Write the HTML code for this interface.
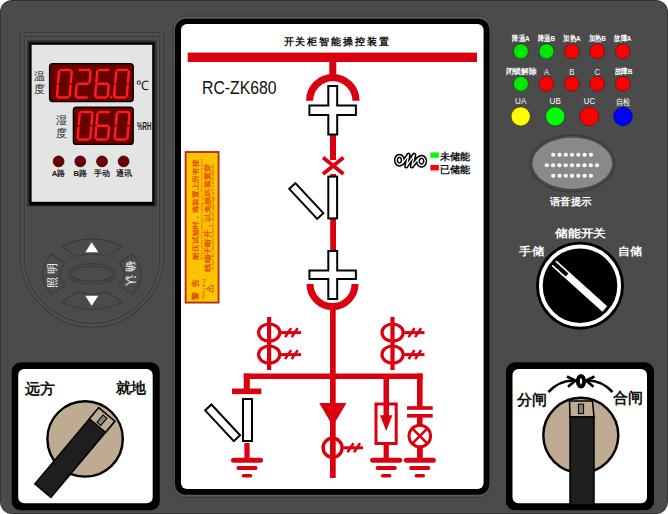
<!DOCTYPE html>
<html><head><meta charset="utf-8">
<style>
html,body{margin:0;padding:0;background:#fff;}
#w{position:relative;width:668px;height:514px;overflow:hidden;}
svg{position:absolute;left:0;top:0;}
text{font-family:"Liberation Sans",sans-serif;}
</style></head><body><div id="w">
<svg width="668" height="514" viewBox="0 0 668 514">

<rect x="0" y="0" width="668" height="514" fill="#ffffff"/>
<rect x="0" y="0" width="668" height="514" rx="12" ry="12" fill="#343434"/>
<rect x="1" y="1" width="666" height="512" rx="11" ry="11" fill="#4b4b4b"/>
<path d="M20.5,32.5 H163.5 V255 A71.5,72 0 0 1 20.5,255 Z" fill="none" stroke="#3a3a3a" stroke-width="1.2"/>
<path d="M21.5,33.5 H162.5 V255 A70.5,71 0 0 1 21.5,255 Z" fill="none" stroke="#555" stroke-width="0.8"/>
<path d="M24.5,36.5 H159.5 V255 A67.5,68 0 0 1 24.5,255 Z" fill="none" stroke="#3a3a3a" stroke-width="1.2"/>
<path d="M25.5,37.5 H158.5 V255 A66.5,67 0 0 1 25.5,255 Z" fill="none" stroke="#555" stroke-width="0.8"/>
<rect x="27.4" y="40.5" width="129.1" height="166" fill="#2a2a2a"/>
<rect x="29.4" y="42.6" width="124.8" height="162.6" fill="#000"/>
<rect x="31.6" y="44.8" width="120.6" height="157" fill="#e4e4e4"/>
<rect x="49.6" y="63.6" width="83.6" height="38" rx="3" fill="#680000" stroke="#000" stroke-width="1.4"/>
<rect x="73.4" y="107.2" width="59.8" height="37.2" rx="3" fill="#680000" stroke="#000" stroke-width="1.4"/>
<line x1="60.74" y1="70.00" x2="70.24" y2="70.00" stroke="#ff1c1c" stroke-width="2.5" stroke-linecap="round"/>
<line x1="71.70" y1="71.60" x2="70.80" y2="82.15" stroke="#ff1c1c" stroke-width="2.5" stroke-linecap="round"/>
<line x1="70.53" y1="85.35" x2="69.64" y2="95.90" stroke="#ff1c1c" stroke-width="2.5" stroke-linecap="round"/>
<line x1="58.40" y1="97.50" x2="67.90" y2="97.50" stroke="#ff1c1c" stroke-width="2.5" stroke-linecap="round"/>
<line x1="57.83" y1="85.35" x2="56.94" y2="95.90" stroke="#ff1c1c" stroke-width="2.5" stroke-linecap="round"/>
<line x1="59.00" y1="71.60" x2="58.10" y2="82.15" stroke="#ff1c1c" stroke-width="2.5" stroke-linecap="round"/>
<line x1="79.54" y1="70.00" x2="89.04" y2="70.00" stroke="#ff1c1c" stroke-width="2.5" stroke-linecap="round"/>
<line x1="90.50" y1="71.60" x2="89.60" y2="82.15" stroke="#ff1c1c" stroke-width="2.5" stroke-linecap="round"/>
<line x1="78.37" y1="83.75" x2="87.87" y2="83.75" stroke="#ff1c1c" stroke-width="2.5" stroke-linecap="round"/>
<line x1="76.63" y1="85.35" x2="75.74" y2="95.90" stroke="#ff1c1c" stroke-width="2.5" stroke-linecap="round"/>
<line x1="77.20" y1="97.50" x2="86.70" y2="97.50" stroke="#ff1c1c" stroke-width="2.5" stroke-linecap="round"/>
<line x1="98.94" y1="70.00" x2="108.44" y2="70.00" stroke="#ff1c1c" stroke-width="2.5" stroke-linecap="round"/>
<line x1="97.20" y1="71.60" x2="96.30" y2="82.15" stroke="#ff1c1c" stroke-width="2.5" stroke-linecap="round"/>
<line x1="97.77" y1="83.75" x2="107.27" y2="83.75" stroke="#ff1c1c" stroke-width="2.5" stroke-linecap="round"/>
<line x1="96.03" y1="85.35" x2="95.14" y2="95.90" stroke="#ff1c1c" stroke-width="2.5" stroke-linecap="round"/>
<line x1="96.60" y1="97.50" x2="106.10" y2="97.50" stroke="#ff1c1c" stroke-width="2.5" stroke-linecap="round"/>
<line x1="108.73" y1="85.35" x2="107.84" y2="95.90" stroke="#ff1c1c" stroke-width="2.5" stroke-linecap="round"/>
<line x1="117.94" y1="70.00" x2="127.44" y2="70.00" stroke="#ff1c1c" stroke-width="2.5" stroke-linecap="round"/>
<line x1="128.90" y1="71.60" x2="128.00" y2="82.15" stroke="#ff1c1c" stroke-width="2.5" stroke-linecap="round"/>
<line x1="127.73" y1="85.35" x2="126.84" y2="95.90" stroke="#ff1c1c" stroke-width="2.5" stroke-linecap="round"/>
<line x1="115.60" y1="97.50" x2="125.10" y2="97.50" stroke="#ff1c1c" stroke-width="2.5" stroke-linecap="round"/>
<line x1="115.03" y1="85.35" x2="114.14" y2="95.90" stroke="#ff1c1c" stroke-width="2.5" stroke-linecap="round"/>
<line x1="116.20" y1="71.60" x2="115.30" y2="82.15" stroke="#ff1c1c" stroke-width="2.5" stroke-linecap="round"/>
<circle cx="111.3" cy="97.3" r="1.2" fill="#ff2222"/>
<line x1="81.44" y1="111.90" x2="90.94" y2="111.90" stroke="#ff1c1c" stroke-width="2.5" stroke-linecap="round"/>
<line x1="92.40" y1="113.50" x2="91.50" y2="124.05" stroke="#ff1c1c" stroke-width="2.5" stroke-linecap="round"/>
<line x1="91.23" y1="127.25" x2="90.34" y2="137.80" stroke="#ff1c1c" stroke-width="2.5" stroke-linecap="round"/>
<line x1="79.10" y1="139.40" x2="88.60" y2="139.40" stroke="#ff1c1c" stroke-width="2.5" stroke-linecap="round"/>
<line x1="78.53" y1="127.25" x2="77.64" y2="137.80" stroke="#ff1c1c" stroke-width="2.5" stroke-linecap="round"/>
<line x1="79.70" y1="113.50" x2="78.80" y2="124.05" stroke="#ff1c1c" stroke-width="2.5" stroke-linecap="round"/>
<line x1="99.24" y1="111.90" x2="108.74" y2="111.90" stroke="#ff1c1c" stroke-width="2.5" stroke-linecap="round"/>
<line x1="97.50" y1="113.50" x2="96.60" y2="124.05" stroke="#ff1c1c" stroke-width="2.5" stroke-linecap="round"/>
<line x1="98.07" y1="125.65" x2="107.57" y2="125.65" stroke="#ff1c1c" stroke-width="2.5" stroke-linecap="round"/>
<line x1="96.33" y1="127.25" x2="95.44" y2="137.80" stroke="#ff1c1c" stroke-width="2.5" stroke-linecap="round"/>
<line x1="96.90" y1="139.40" x2="106.40" y2="139.40" stroke="#ff1c1c" stroke-width="2.5" stroke-linecap="round"/>
<line x1="109.03" y1="127.25" x2="108.14" y2="137.80" stroke="#ff1c1c" stroke-width="2.5" stroke-linecap="round"/>
<line x1="118.54" y1="111.90" x2="128.04" y2="111.90" stroke="#ff1c1c" stroke-width="2.5" stroke-linecap="round"/>
<line x1="129.50" y1="113.50" x2="128.60" y2="124.05" stroke="#ff1c1c" stroke-width="2.5" stroke-linecap="round"/>
<line x1="128.33" y1="127.25" x2="127.44" y2="137.80" stroke="#ff1c1c" stroke-width="2.5" stroke-linecap="round"/>
<line x1="116.20" y1="139.40" x2="125.70" y2="139.40" stroke="#ff1c1c" stroke-width="2.5" stroke-linecap="round"/>
<line x1="115.63" y1="127.25" x2="114.74" y2="137.80" stroke="#ff1c1c" stroke-width="2.5" stroke-linecap="round"/>
<line x1="116.80" y1="113.50" x2="115.90" y2="124.05" stroke="#ff1c1c" stroke-width="2.5" stroke-linecap="round"/>
<text x="39.6" y="80" font-size="11" text-anchor="middle" fill="#222">温</text>
<text x="39.6" y="93" font-size="11" text-anchor="middle" fill="#222">度</text>
<text x="61" y="124" font-size="11" text-anchor="middle" fill="#222">湿</text>
<text x="61" y="137" font-size="11" text-anchor="middle" fill="#222">度</text>
<text x="136" y="90" font-size="13" fill="#222">℃</text>
<text x="137" y="130.3" font-size="10.6" font-weight="bold" fill="#1a1a1a" textLength="14.6" lengthAdjust="spacingAndGlyphs">%RH</text>
<circle cx="58.6" cy="161.4" r="5.4" fill="#6a0000" stroke="#2a0000" stroke-width="0.8"/>
<text x="58.6" y="176.2" font-size="7.8" font-weight="bold" text-anchor="middle" fill="#1a1a1a">A路</text>
<circle cx="80.3" cy="161.4" r="5.4" fill="#6a0000" stroke="#2a0000" stroke-width="0.8"/>
<text x="80.3" y="176.2" font-size="7.8" font-weight="bold" text-anchor="middle" fill="#1a1a1a">B路</text>
<circle cx="102.0" cy="161.4" r="5.4" fill="#6a0000" stroke="#2a0000" stroke-width="0.8"/>
<text x="102.0" y="176.2" font-size="7.8" font-weight="bold" text-anchor="middle" fill="#1a1a1a">手动</text>
<circle cx="123.6" cy="161.4" r="5.4" fill="#6a0000" stroke="#2a0000" stroke-width="0.8"/>
<text x="123.6" y="176.2" font-size="7.8" font-weight="bold" text-anchor="middle" fill="#1a1a1a">通讯</text>
<path d="M62.22,246.34 L62.56,246.16 L62.91,245.97 L63.25,245.79 L63.60,245.62 L63.96,245.44 L64.31,245.27 L64.67,245.10 L65.02,244.93 L65.38,244.76 L65.75,244.60 L66.11,244.44 L66.48,244.28 L66.84,244.12 L67.21,243.97 L67.59,243.81 L67.96,243.66 L68.34,243.51 L68.71,243.37 L69.09,243.23 L69.47,243.08 L69.86,242.95 L70.24,242.81 L70.63,242.68 L71.01,242.54 L71.40,242.41 L71.79,242.29 L72.18,242.16 L72.58,242.04 L72.97,241.92 L73.37,241.81 L73.77,241.69 L74.17,241.58 L74.57,241.47 L74.97,241.36 L75.37,241.26 L75.78,241.16 L76.19,241.06 L76.59,240.96 L77.00,240.87 L77.41,240.77 L77.82,240.69 L78.23,240.60 L78.65,240.51 L79.06,240.43 L79.47,240.35 L79.89,240.28 L80.31,240.20 L80.72,240.13 L81.14,240.06 L81.56,240.00 L81.98,239.93 L82.40,239.87 L82.82,239.81 L83.25,239.76 L83.67,239.71 L84.09,239.66 L84.52,239.61 L84.94,239.56 L85.37,239.52 L85.79,239.48 L86.22,239.44 L86.64,239.41 L87.07,239.38 L87.50,239.35 L87.93,239.32 L88.35,239.30 L88.78,239.27 L89.21,239.26 L89.64,239.24 L90.07,239.23 L90.50,239.22 L90.93,239.21 L91.36,239.20 L91.79,239.20 L92.21,239.20 L92.64,239.20 L93.07,239.21 L93.50,239.22 L93.93,239.23 L94.36,239.24 L94.79,239.26 L95.22,239.27 L95.65,239.30 L96.07,239.32 L96.50,239.35 L96.93,239.38 L97.36,239.41 L97.78,239.44 L98.21,239.48 L98.63,239.52 L99.06,239.56 L99.48,239.61 L99.91,239.66 L100.33,239.71 L100.75,239.76 L101.18,239.81 L101.60,239.87 L102.02,239.93 L102.44,240.00 L102.86,240.06 L103.28,240.13 L103.69,240.20 L104.11,240.28 L104.53,240.35 L104.94,240.43 L105.35,240.51 L105.77,240.60 L106.18,240.69 L106.59,240.77 L107.00,240.87 L107.41,240.96 L107.81,241.06 L108.22,241.16 L108.63,241.26 L109.03,241.36 L109.43,241.47 L109.83,241.58 L110.23,241.69 L110.63,241.81 L111.03,241.92 L111.42,242.04 L111.82,242.16 L112.21,242.29 L112.60,242.41 L112.99,242.54 L113.37,242.68 L113.76,242.81 L114.14,242.95 L114.53,243.08 L114.91,243.23 L115.29,243.37 L115.66,243.51 L116.04,243.66 L116.41,243.81 L116.79,243.97 L117.16,244.12 L117.52,244.28 L117.89,244.44 L118.25,244.60 L118.62,244.76 L118.98,244.93 L119.33,245.10 L119.69,245.27 L120.04,245.44 L120.40,245.62 L120.75,245.79 L121.09,245.97 L121.44,246.16 L121.78,246.34 L106.90,256.50 L106.65,256.42 L106.40,256.34 L106.15,256.26 L105.90,256.19 L105.65,256.11 L105.40,256.04 L105.14,255.96 L104.89,255.89 L104.63,255.82 L104.37,255.76 L104.12,255.69 L103.86,255.62 L103.60,255.56 L103.34,255.50 L103.08,255.44 L102.81,255.38 L102.55,255.32 L102.29,255.26 L102.02,255.21 L101.76,255.15 L101.49,255.10 L101.22,255.05 L100.95,255.00 L100.69,254.95 L100.42,254.90 L100.15,254.86 L99.88,254.82 L99.61,254.77 L99.33,254.73 L99.06,254.69 L98.79,254.66 L98.52,254.62 L98.24,254.58 L97.97,254.55 L97.69,254.52 L97.42,254.49 L97.14,254.46 L96.87,254.43 L96.59,254.41 L96.32,254.38 L96.04,254.36 L95.76,254.34 L95.48,254.32 L95.21,254.30 L94.93,254.28 L94.65,254.27 L94.37,254.25 L94.09,254.24 L93.81,254.23 L93.54,254.22 L93.26,254.22 L92.98,254.21 L92.70,254.20 L92.42,254.20 L92.14,254.20 L91.86,254.20 L91.58,254.20 L91.30,254.20 L91.02,254.21 L90.74,254.22 L90.46,254.22 L90.19,254.23 L89.91,254.24 L89.63,254.25 L89.35,254.27 L89.07,254.28 L88.79,254.30 L88.52,254.32 L88.24,254.34 L87.96,254.36 L87.68,254.38 L87.41,254.41 L87.13,254.43 L86.86,254.46 L86.58,254.49 L86.31,254.52 L86.03,254.55 L85.76,254.58 L85.48,254.62 L85.21,254.66 L84.94,254.69 L84.67,254.73 L84.39,254.77 L84.12,254.82 L83.85,254.86 L83.58,254.90 L83.31,254.95 L83.05,255.00 L82.78,255.05 L82.51,255.10 L82.24,255.15 L81.98,255.21 L81.71,255.26 L81.45,255.32 L81.19,255.38 L80.92,255.44 L80.66,255.50 L80.40,255.56 L80.14,255.62 L79.88,255.69 L79.63,255.76 L79.37,255.82 L79.11,255.89 L78.86,255.96 L78.60,256.04 L78.35,256.11 L78.10,256.19 L77.85,256.26 L77.60,256.34 L77.35,256.42 L77.10,256.50 L76.98,256.54 Z" fill="#4b4b4b" stroke="#393939" stroke-width="1.1" stroke-linejoin="miter"/>
<path d="M132.18,254.00 L132.43,254.25 L132.67,254.50 L132.91,254.76 L133.15,255.01 L133.38,255.27 L133.61,255.52 L133.84,255.78 L134.06,256.04 L134.28,256.30 L134.50,256.57 L134.72,256.83 L134.93,257.10 L135.13,257.37 L135.34,257.63 L135.54,257.90 L135.74,258.17 L135.93,258.45 L136.13,258.72 L136.31,258.99 L136.50,259.27 L136.68,259.55 L136.86,259.82 L137.03,260.10 L137.20,260.38 L137.37,260.67 L137.54,260.95 L137.70,261.23 L137.85,261.51 L138.01,261.80 L138.16,262.09 L138.31,262.37 L138.45,262.66 L138.59,262.95 L138.73,263.24 L138.86,263.53 L138.99,263.82 L139.11,264.11 L139.23,264.41 L139.35,264.70 L139.47,264.99 L139.58,265.29 L139.69,265.58 L139.79,265.88 L139.89,266.18 L139.99,266.48 L140.08,266.77 L140.17,267.07 L140.25,267.37 L140.34,267.67 L140.41,267.97 L140.49,268.27 L140.56,268.57 L140.63,268.88 L140.69,269.18 L140.75,269.48 L140.81,269.78 L140.86,270.09 L140.91,270.39 L140.95,270.69 L140.99,271.00 L141.03,271.30 L141.06,271.61 L141.09,271.91 L141.12,272.22 L141.14,272.52 L141.16,272.83 L141.18,273.13 L141.19,273.44 L141.20,273.74 L141.20,274.05 L141.20,274.35 L141.20,274.66 L141.19,274.96 L141.18,275.27 L141.16,275.57 L141.14,275.88 L141.12,276.18 L141.09,276.49 L141.06,276.79 L141.03,277.10 L140.99,277.40 L140.95,277.71 L140.91,278.01 L140.86,278.31 L140.81,278.62 L140.75,278.92 L140.69,279.22 L140.63,279.52 L140.56,279.83 L140.49,280.13 L140.41,280.43 L140.34,280.73 L140.25,281.03 L140.17,281.33 L140.08,281.63 L139.99,281.92 L139.89,282.22 L139.79,282.52 L139.69,282.82 L139.58,283.11 L139.47,283.41 L139.35,283.70 L139.23,283.99 L139.11,284.29 L138.99,284.58 L138.86,284.87 L138.73,285.16 L138.59,285.45 L138.45,285.74 L138.31,286.03 L138.16,286.31 L138.01,286.60 L137.85,286.89 L137.70,287.17 L137.54,287.45 L137.37,287.73 L137.20,288.02 L137.03,288.30 L136.86,288.58 L136.68,288.85 L136.50,289.13 L136.31,289.41 L136.13,289.68 L135.93,289.95 L135.74,290.23 L135.54,290.50 L135.34,290.77 L135.13,291.03 L134.93,291.30 L134.72,291.57 L134.50,291.83 L134.28,292.10 L134.06,292.36 L133.84,292.62 L133.61,292.88 L133.38,293.13 L133.15,293.39 L132.91,293.64 L132.67,293.90 L132.43,294.15 L132.18,294.40 L118.84,285.09 L118.99,284.95 L119.14,284.80 L119.28,284.65 L119.43,284.50 L119.57,284.35 L119.71,284.20 L119.85,284.05 L119.99,283.90 L120.12,283.74 L120.25,283.59 L120.38,283.43 L120.51,283.28 L120.64,283.12 L120.76,282.97 L120.88,282.81 L121.00,282.65 L121.12,282.49 L121.23,282.33 L121.35,282.17 L121.46,282.01 L121.56,281.85 L121.67,281.69 L121.77,281.53 L121.87,281.37 L121.97,281.20 L122.07,281.04 L122.16,280.88 L122.26,280.71 L122.35,280.55 L122.43,280.38 L122.52,280.21 L122.60,280.05 L122.68,279.88 L122.76,279.71 L122.84,279.54 L122.91,279.38 L122.98,279.21 L123.05,279.04 L123.12,278.87 L123.18,278.70 L123.24,278.53 L123.30,278.36 L123.36,278.19 L123.41,278.02 L123.46,277.84 L123.51,277.67 L123.56,277.50 L123.61,277.33 L123.65,277.16 L123.69,276.98 L123.73,276.81 L123.76,276.64 L123.79,276.46 L123.82,276.29 L123.85,276.12 L123.88,275.94 L123.90,275.77 L123.92,275.60 L123.94,275.42 L123.96,275.25 L123.97,275.07 L123.98,274.90 L123.99,274.72 L124.00,274.55 L124.00,274.37 L124.00,274.20 L124.00,274.03 L124.00,273.85 L123.99,273.68 L123.98,273.50 L123.97,273.33 L123.96,273.15 L123.94,272.98 L123.92,272.80 L123.90,272.63 L123.88,272.46 L123.85,272.28 L123.82,272.11 L123.79,271.94 L123.76,271.76 L123.73,271.59 L123.69,271.42 L123.65,271.24 L123.61,271.07 L123.56,270.90 L123.51,270.73 L123.46,270.56 L123.41,270.38 L123.36,270.21 L123.30,270.04 L123.24,269.87 L123.18,269.70 L123.12,269.53 L123.05,269.36 L122.98,269.19 L122.91,269.02 L122.84,268.86 L122.76,268.69 L122.68,268.52 L122.60,268.35 L122.52,268.19 L122.43,268.02 L122.35,267.85 L122.26,267.69 L122.16,267.52 L122.07,267.36 L121.97,267.20 L121.87,267.03 L121.77,266.87 L121.67,266.71 L121.56,266.55 L121.46,266.39 L121.35,266.23 L121.23,266.07 L121.12,265.91 L121.00,265.75 L120.88,265.59 L120.76,265.43 L120.64,265.28 L120.51,265.12 L120.38,264.97 L120.25,264.81 L120.12,264.66 L119.99,264.50 L119.85,264.35 L119.71,264.20 L119.57,264.05 L119.43,263.90 L119.28,263.75 L119.14,263.60 L118.99,263.45 L118.84,263.31 L118.76,263.23 Z" fill="#4b4b4b" stroke="#393939" stroke-width="1.1" stroke-linejoin="miter"/>
<path d="M121.78,302.06 L121.44,302.24 L121.09,302.43 L120.75,302.61 L120.40,302.78 L120.04,302.96 L119.69,303.13 L119.33,303.30 L118.98,303.47 L118.62,303.64 L118.25,303.80 L117.89,303.96 L117.52,304.12 L117.16,304.28 L116.79,304.43 L116.41,304.59 L116.04,304.74 L115.66,304.89 L115.29,305.03 L114.91,305.17 L114.53,305.32 L114.14,305.45 L113.76,305.59 L113.37,305.72 L112.99,305.86 L112.60,305.99 L112.21,306.11 L111.82,306.24 L111.42,306.36 L111.03,306.48 L110.63,306.59 L110.23,306.71 L109.83,306.82 L109.43,306.93 L109.03,307.04 L108.63,307.14 L108.22,307.24 L107.81,307.34 L107.41,307.44 L107.00,307.53 L106.59,307.63 L106.18,307.71 L105.77,307.80 L105.35,307.89 L104.94,307.97 L104.53,308.05 L104.11,308.12 L103.69,308.20 L103.28,308.27 L102.86,308.34 L102.44,308.40 L102.02,308.47 L101.60,308.53 L101.18,308.59 L100.75,308.64 L100.33,308.69 L99.91,308.74 L99.48,308.79 L99.06,308.84 L98.63,308.88 L98.21,308.92 L97.78,308.96 L97.36,308.99 L96.93,309.02 L96.50,309.05 L96.07,309.08 L95.65,309.10 L95.22,309.13 L94.79,309.14 L94.36,309.16 L93.93,309.17 L93.50,309.18 L93.07,309.19 L92.64,309.20 L92.21,309.20 L91.79,309.20 L91.36,309.20 L90.93,309.19 L90.50,309.18 L90.07,309.17 L89.64,309.16 L89.21,309.14 L88.78,309.13 L88.35,309.10 L87.93,309.08 L87.50,309.05 L87.07,309.02 L86.64,308.99 L86.22,308.96 L85.79,308.92 L85.37,308.88 L84.94,308.84 L84.52,308.79 L84.09,308.74 L83.67,308.69 L83.25,308.64 L82.82,308.59 L82.40,308.53 L81.98,308.47 L81.56,308.40 L81.14,308.34 L80.72,308.27 L80.31,308.20 L79.89,308.12 L79.47,308.05 L79.06,307.97 L78.65,307.89 L78.23,307.80 L77.82,307.71 L77.41,307.63 L77.00,307.53 L76.59,307.44 L76.19,307.34 L75.78,307.24 L75.37,307.14 L74.97,307.04 L74.57,306.93 L74.17,306.82 L73.77,306.71 L73.37,306.59 L72.97,306.48 L72.58,306.36 L72.18,306.24 L71.79,306.11 L71.40,305.99 L71.01,305.86 L70.63,305.72 L70.24,305.59 L69.86,305.45 L69.47,305.32 L69.09,305.17 L68.71,305.03 L68.34,304.89 L67.96,304.74 L67.59,304.59 L67.21,304.43 L66.84,304.28 L66.48,304.12 L66.11,303.96 L65.75,303.80 L65.38,303.64 L65.02,303.47 L64.67,303.30 L64.31,303.13 L63.96,302.96 L63.60,302.78 L63.25,302.61 L62.91,302.43 L62.56,302.24 L62.22,302.06 L77.10,291.90 L77.35,291.98 L77.60,292.06 L77.85,292.14 L78.10,292.21 L78.35,292.29 L78.60,292.36 L78.86,292.44 L79.11,292.51 L79.37,292.58 L79.63,292.64 L79.88,292.71 L80.14,292.78 L80.40,292.84 L80.66,292.90 L80.92,292.96 L81.19,293.02 L81.45,293.08 L81.71,293.14 L81.98,293.19 L82.24,293.25 L82.51,293.30 L82.78,293.35 L83.05,293.40 L83.31,293.45 L83.58,293.50 L83.85,293.54 L84.12,293.58 L84.39,293.63 L84.67,293.67 L84.94,293.71 L85.21,293.74 L85.48,293.78 L85.76,293.82 L86.03,293.85 L86.31,293.88 L86.58,293.91 L86.86,293.94 L87.13,293.97 L87.41,293.99 L87.68,294.02 L87.96,294.04 L88.24,294.06 L88.52,294.08 L88.79,294.10 L89.07,294.12 L89.35,294.13 L89.63,294.15 L89.91,294.16 L90.19,294.17 L90.46,294.18 L90.74,294.18 L91.02,294.19 L91.30,294.20 L91.58,294.20 L91.86,294.20 L92.14,294.20 L92.42,294.20 L92.70,294.20 L92.98,294.19 L93.26,294.18 L93.54,294.18 L93.81,294.17 L94.09,294.16 L94.37,294.15 L94.65,294.13 L94.93,294.12 L95.21,294.10 L95.48,294.08 L95.76,294.06 L96.04,294.04 L96.32,294.02 L96.59,293.99 L96.87,293.97 L97.14,293.94 L97.42,293.91 L97.69,293.88 L97.97,293.85 L98.24,293.82 L98.52,293.78 L98.79,293.74 L99.06,293.71 L99.33,293.67 L99.61,293.63 L99.88,293.58 L100.15,293.54 L100.42,293.50 L100.69,293.45 L100.95,293.40 L101.22,293.35 L101.49,293.30 L101.76,293.25 L102.02,293.19 L102.29,293.14 L102.55,293.08 L102.81,293.02 L103.08,292.96 L103.34,292.90 L103.60,292.84 L103.86,292.78 L104.12,292.71 L104.37,292.64 L104.63,292.58 L104.89,292.51 L105.14,292.44 L105.40,292.36 L105.65,292.29 L105.90,292.21 L106.15,292.14 L106.40,292.06 L106.65,291.98 L106.90,291.90 L107.02,291.86 Z" fill="#4b4b4b" stroke="#393939" stroke-width="1.1" stroke-linejoin="miter"/>
<path d="M51.82,294.40 L51.57,294.15 L51.33,293.90 L51.09,293.64 L50.85,293.39 L50.62,293.13 L50.39,292.88 L50.16,292.62 L49.94,292.36 L49.72,292.10 L49.50,291.83 L49.28,291.57 L49.07,291.30 L48.87,291.03 L48.66,290.77 L48.46,290.50 L48.26,290.23 L48.07,289.95 L47.87,289.68 L47.69,289.41 L47.50,289.13 L47.32,288.85 L47.14,288.58 L46.97,288.30 L46.80,288.02 L46.63,287.73 L46.46,287.45 L46.30,287.17 L46.15,286.89 L45.99,286.60 L45.84,286.31 L45.69,286.03 L45.55,285.74 L45.41,285.45 L45.27,285.16 L45.14,284.87 L45.01,284.58 L44.89,284.29 L44.77,283.99 L44.65,283.70 L44.53,283.41 L44.42,283.11 L44.31,282.82 L44.21,282.52 L44.11,282.22 L44.01,281.92 L43.92,281.63 L43.83,281.33 L43.75,281.03 L43.66,280.73 L43.59,280.43 L43.51,280.13 L43.44,279.83 L43.37,279.52 L43.31,279.22 L43.25,278.92 L43.19,278.62 L43.14,278.31 L43.09,278.01 L43.05,277.71 L43.01,277.40 L42.97,277.10 L42.94,276.79 L42.91,276.49 L42.88,276.18 L42.86,275.88 L42.84,275.57 L42.82,275.27 L42.81,274.96 L42.80,274.66 L42.80,274.35 L42.80,274.05 L42.80,273.74 L42.81,273.44 L42.82,273.13 L42.84,272.83 L42.86,272.52 L42.88,272.22 L42.91,271.91 L42.94,271.61 L42.97,271.30 L43.01,271.00 L43.05,270.69 L43.09,270.39 L43.14,270.09 L43.19,269.78 L43.25,269.48 L43.31,269.18 L43.37,268.88 L43.44,268.57 L43.51,268.27 L43.59,267.97 L43.66,267.67 L43.75,267.37 L43.83,267.07 L43.92,266.77 L44.01,266.48 L44.11,266.18 L44.21,265.88 L44.31,265.58 L44.42,265.29 L44.53,264.99 L44.65,264.70 L44.77,264.41 L44.89,264.11 L45.01,263.82 L45.14,263.53 L45.27,263.24 L45.41,262.95 L45.55,262.66 L45.69,262.37 L45.84,262.09 L45.99,261.80 L46.15,261.51 L46.30,261.23 L46.46,260.95 L46.63,260.67 L46.80,260.38 L46.97,260.10 L47.14,259.82 L47.32,259.55 L47.50,259.27 L47.69,258.99 L47.87,258.72 L48.07,258.45 L48.26,258.17 L48.46,257.90 L48.66,257.63 L48.87,257.37 L49.07,257.10 L49.28,256.83 L49.50,256.57 L49.72,256.30 L49.94,256.04 L50.16,255.78 L50.39,255.52 L50.62,255.27 L50.85,255.01 L51.09,254.76 L51.33,254.50 L51.57,254.25 L51.82,254.00 L65.16,263.31 L65.01,263.45 L64.86,263.60 L64.72,263.75 L64.57,263.90 L64.43,264.05 L64.29,264.20 L64.15,264.35 L64.01,264.50 L63.88,264.66 L63.75,264.81 L63.62,264.97 L63.49,265.12 L63.36,265.28 L63.24,265.43 L63.12,265.59 L63.00,265.75 L62.88,265.91 L62.77,266.07 L62.65,266.23 L62.54,266.39 L62.44,266.55 L62.33,266.71 L62.23,266.87 L62.13,267.03 L62.03,267.20 L61.93,267.36 L61.84,267.52 L61.74,267.69 L61.65,267.85 L61.57,268.02 L61.48,268.19 L61.40,268.35 L61.32,268.52 L61.24,268.69 L61.16,268.86 L61.09,269.02 L61.02,269.19 L60.95,269.36 L60.88,269.53 L60.82,269.70 L60.76,269.87 L60.70,270.04 L60.64,270.21 L60.59,270.38 L60.54,270.56 L60.49,270.73 L60.44,270.90 L60.39,271.07 L60.35,271.24 L60.31,271.42 L60.27,271.59 L60.24,271.76 L60.21,271.94 L60.18,272.11 L60.15,272.28 L60.12,272.46 L60.10,272.63 L60.08,272.80 L60.06,272.98 L60.04,273.15 L60.03,273.33 L60.02,273.50 L60.01,273.68 L60.00,273.85 L60.00,274.03 L60.00,274.20 L60.00,274.37 L60.00,274.55 L60.01,274.72 L60.02,274.90 L60.03,275.07 L60.04,275.25 L60.06,275.42 L60.08,275.60 L60.10,275.77 L60.12,275.94 L60.15,276.12 L60.18,276.29 L60.21,276.46 L60.24,276.64 L60.27,276.81 L60.31,276.98 L60.35,277.16 L60.39,277.33 L60.44,277.50 L60.49,277.67 L60.54,277.84 L60.59,278.02 L60.64,278.19 L60.70,278.36 L60.76,278.53 L60.82,278.70 L60.88,278.87 L60.95,279.04 L61.02,279.21 L61.09,279.38 L61.16,279.54 L61.24,279.71 L61.32,279.88 L61.40,280.05 L61.48,280.21 L61.57,280.38 L61.65,280.55 L61.74,280.71 L61.84,280.88 L61.93,281.04 L62.03,281.20 L62.13,281.37 L62.23,281.53 L62.33,281.69 L62.44,281.85 L62.54,282.01 L62.65,282.17 L62.77,282.33 L62.88,282.49 L63.00,282.65 L63.12,282.81 L63.24,282.97 L63.36,283.12 L63.49,283.28 L63.62,283.43 L63.75,283.59 L63.88,283.74 L64.01,283.90 L64.15,284.05 L64.29,284.20 L64.43,284.35 L64.57,284.50 L64.72,284.65 L64.86,284.80 L65.01,284.95 L65.16,285.09 L65.24,285.17 Z" fill="#4b4b4b" stroke="#393939" stroke-width="1.1" stroke-linejoin="miter"/>
<ellipse cx="92" cy="273.8" rx="24" ry="10.2" fill="none" stroke="#393939" stroke-width="1.1"/>
<ellipse cx="92" cy="273.8" rx="21.3" ry="7.6" fill="none" stroke="#393939" stroke-width="1.1"/>
<polygon points="91.7,242.3 85.3,252.3 98.3,252.3" fill="#fff"/>
<polygon points="91.7,305.8 85.3,295.8 98.3,295.8" fill="#fff"/>
<text x="0" y="0" font-size="11" fill="#fff" transform="translate(52.3,273.5) rotate(-90)" text-anchor="middle" dominant-baseline="central" letter-spacing="3">照明</text>
<text x="0" y="0" font-size="11" fill="#fff" transform="translate(131,274.5) rotate(90)" text-anchor="middle" dominant-baseline="central" letter-spacing="3">确认</text>
<rect x="172.6" y="15.4" width="319.2" height="482.4" rx="13" fill="#3e3e3e"/>
<rect x="173.6" y="16.6" width="317.2" height="480.2" rx="12" fill="#585858"/>
<rect x="174.9" y="18.8" width="314.6" height="476" rx="10.5" fill="#000"/>
<rect x="181" y="24.1" width="302.6" height="465" rx="6" fill="#fff"/>
<text x="283.6" y="45.2" font-size="10.4" font-weight="600" fill="#111" textLength="105" lengthAdjust="spacing">开关柜智能操控装置</text>
<rect x="187.7" y="52.6" width="289.3" height="9.4" fill="#db000f"/>
<text x="202" y="94" font-size="18.2" fill="#111" textLength="74.5" lengthAdjust="spacingAndGlyphs">RC-ZK680</text>
<rect x="329.3" y="60" width="7" height="15" fill="#db000f"/>
<path d="M309.6,100.8 A23.2,23.2 0 0 1 356,100.8" fill="none" stroke="#db000f" stroke-width="7.2"/>
<rect x="330" y="130" width="6" height="30" fill="#db000f"/>
<path d="M328.3,86 H337.2 V105.6 H355.9 V115 H337.2 V134.5 H328.3 V115 H309.4 V105.6 H328.3 Z" fill="#fff" stroke="#000" stroke-width="2"/>
<path d="M323,157.5 L343.5,174 M343.5,157.5 L323,174" stroke="#db000f" stroke-width="3.8"/>
<rect x="330.2" y="174" width="5.8" height="76" fill="#db000f"/>
<rect x="328.3" y="176.6" width="8.8" height="41.8" fill="#fff" stroke="#000" stroke-width="2"/>
<rect x="-4.2" y="-20.5" width="8.4" height="41" fill="#fff" stroke="#000" stroke-width="2" transform="translate(306.3,201) rotate(-43)"/>
<path d="M310,284 A22.5,22.5 0 0 0 355,284" fill="none" stroke="#db000f" stroke-width="7"/>
<path d="M328.3,251 H337.2 V270.6 H355.9 V279 H337.2 V299 H328.3 V279 H309.4 V270.6 H328.3 Z" fill="#fff" stroke="#000" stroke-width="2"/>
<rect x="330" y="306" width="5.7" height="172" fill="#db000f"/>
<rect x="267" y="317" width="4.2" height="53" fill="#db000f"/>
<ellipse cx="269.2" cy="332.6" rx="10.6" ry="8.6" fill="none" stroke="#db000f" stroke-width="3.2"/><line x1="280.90000000000003" y1="332.6" x2="301" y2="332.6" stroke="#db000f" stroke-width="3"/><line x1="285.1" y1="337.1" x2="291.1" y2="328.1" stroke="#db000f" stroke-width="2.6"/><line x1="291.70000000000005" y1="337.1" x2="297.70000000000005" y2="328.1" stroke="#db000f" stroke-width="2.6"/>
<ellipse cx="269.2" cy="354.6" rx="10.6" ry="8.6" fill="none" stroke="#db000f" stroke-width="3.2"/><line x1="280.90000000000003" y1="354.6" x2="301" y2="354.6" stroke="#db000f" stroke-width="3"/><line x1="285.1" y1="359.1" x2="291.1" y2="350.1" stroke="#db000f" stroke-width="2.6"/><line x1="291.70000000000005" y1="359.1" x2="297.70000000000005" y2="350.1" stroke="#db000f" stroke-width="2.6"/>
<rect x="390.4" y="317" width="4.2" height="53" fill="#db000f"/>
<ellipse cx="392.6" cy="332.6" rx="10.6" ry="8.6" fill="none" stroke="#db000f" stroke-width="3.2"/><line x1="404.30000000000007" y1="332.6" x2="424.5" y2="332.6" stroke="#db000f" stroke-width="3"/><line x1="408.50000000000006" y1="337.1" x2="414.50000000000006" y2="328.1" stroke="#db000f" stroke-width="2.6"/><line x1="415.1000000000001" y1="337.1" x2="421.1000000000001" y2="328.1" stroke="#db000f" stroke-width="2.6"/>
<ellipse cx="392.6" cy="354.6" rx="10.6" ry="8.6" fill="none" stroke="#db000f" stroke-width="3.2"/><line x1="404.30000000000007" y1="354.6" x2="424.5" y2="354.6" stroke="#db000f" stroke-width="3"/><line x1="408.50000000000006" y1="359.1" x2="414.50000000000006" y2="350.1" stroke="#db000f" stroke-width="2.6"/><line x1="415.1000000000001" y1="359.1" x2="421.1000000000001" y2="350.1" stroke="#db000f" stroke-width="2.6"/>
<rect x="243.8" y="373.5" width="178.8" height="5.5" fill="#db000f"/>
<rect x="243.8" y="373.5" width="6" height="18" fill="#db000f"/>
<rect x="232" y="388.5" width="29.4" height="5.6" fill="#db000f"/>
<rect x="243" y="399" width="9" height="42" fill="#fff" stroke="#000" stroke-width="2"/>
<rect x="-4.3" y="-21" width="8.6" height="42" fill="#fff" stroke="#000" stroke-width="2" transform="translate(222.6,422.8) rotate(-43)"/>
<rect x="244.4" y="443" width="5.2" height="16" fill="#db000f"/><line x1="233.5" y1="460.3" x2="260.5" y2="460.3" stroke="#db000f" stroke-width="5" stroke-linecap="round"/><line x1="238.4" y1="468" x2="255.6" y2="468" stroke="#db000f" stroke-width="4" stroke-linecap="round"/><line x1="243.5" y1="475.8" x2="250.5" y2="475.8" stroke="#db000f" stroke-width="3.5" stroke-linecap="round"/>
<polygon points="319.2,403 346.5,403 332.8,426" fill="#db000f"/>
<ellipse cx="332.6" cy="447.8" rx="9.5" ry="9.5" fill="none" stroke="#db000f" stroke-width="3.4"/><line x1="343.3" y1="447.8" x2="363" y2="447.8" stroke="#db000f" stroke-width="3"/><line x1="347.5" y1="452.3" x2="353.5" y2="443.3" stroke="#db000f" stroke-width="2.6"/><line x1="354.1" y1="452.3" x2="360.1" y2="443.3" stroke="#db000f" stroke-width="2.6"/>
<rect x="383.5" y="379" width="5.5" height="37" fill="#db000f"/>
<rect x="376" y="404" width="20.2" height="39.5" fill="none" stroke="#db000f" stroke-width="3"/>
<polygon points="380,415.3 392.4,415.3 386.2,431" fill="#db000f"/>
<rect x="383.59999999999997" y="445" width="5.2" height="14" fill="#db000f"/><line x1="372.7" y1="460.3" x2="399.7" y2="460.3" stroke="#db000f" stroke-width="5" stroke-linecap="round"/><line x1="377.59999999999997" y1="468" x2="394.8" y2="468" stroke="#db000f" stroke-width="4" stroke-linecap="round"/><line x1="382.7" y1="475.8" x2="389.7" y2="475.8" stroke="#db000f" stroke-width="3.5" stroke-linecap="round"/>
<rect x="417" y="373.5" width="5.6" height="34" fill="#db000f"/>
<rect x="407" y="406.2" width="25.7" height="3.6" fill="#db000f"/>
<rect x="407" y="414" width="25.7" height="3.6" fill="#db000f"/>
<rect x="417" y="417" width="5.6" height="8" fill="#db000f"/>
<circle cx="419.8" cy="436" r="10.8" fill="#fff" stroke="#db000f" stroke-width="3"/>
<path d="M412.2,428.4 L427.4,443.6 M427.4,428.4 L412.2,443.6" stroke="#db000f" stroke-width="2.6"/>
<rect x="417" y="447" width="5.6" height="12" fill="#db000f"/>
<rect x="417.2" y="447" width="5.2" height="12" fill="#db000f"/><line x1="406.3" y1="460.3" x2="433.3" y2="460.3" stroke="#db000f" stroke-width="5" stroke-linecap="round"/><line x1="411.2" y1="468" x2="428.40000000000003" y2="468" stroke="#db000f" stroke-width="4" stroke-linecap="round"/><line x1="416.3" y1="475.8" x2="423.3" y2="475.8" stroke="#db000f" stroke-width="3.5" stroke-linecap="round"/>
<rect x="185.6" y="152" width="33" height="150.6" fill="#ffc400" stroke="#b02a1a" stroke-width="1.8"/>
<text font-size="7.4" font-weight="600" fill="#e05200" textLength="100" lengthAdjust="spacingAndGlyphs" transform="translate(198.4,259.5) rotate(-90)">耐压试验时，将装置上所有接</text>
<text font-size="3.3" fill="#e05200" textLength="101" lengthAdjust="spacingAndGlyphs" transform="translate(202.6,259.7) rotate(-90)">When performing withstand voltage test, all the terminal wires</text>
<text font-size="7.4" font-weight="600" fill="#e05200" textLength="108.5" lengthAdjust="spacingAndGlyphs" transform="translate(209.7,271.8) rotate(-90)">线端子断开，以免损坏装置穿</text>
<text font-size="3.3" fill="#e05200" textLength="107" lengthAdjust="spacingAndGlyphs" transform="translate(213.9,270.6) rotate(-90)">should be disconnected to avoid damaging the instrument.</text>
<text font-size="8" font-weight="bold" fill="#e05200" textLength="21" lengthAdjust="spacing" transform="translate(198.4,299.5) rotate(-90)">警告</text>
<text font-size="3.8" fill="#e05200" textLength="21" lengthAdjust="spacingAndGlyphs" transform="translate(204.5,299.5) rotate(-90)">Warning</text>
<polygon points="206.3,288.7 213,285 213,292.4" fill="none" stroke="#e05200" stroke-width="1"/>
<line x1="208.8" y1="288.7" x2="211.5" y2="288.7" stroke="#e05200" stroke-width="1.2"/>
<path d="M399.4,155.9 A3.4,4.3 0 1 0 399.41,155.9 M402.6,163.2 L408.6,154.8 L406.3,166.4 L414.2,154.8 L411.9,166.4 L418.2,158.4 M421.5,156.8 A3.6,4.4 0 1 0 421.51,156.8" fill="none" stroke="#000" stroke-width="4.3" stroke-linejoin="round" stroke-linecap="round"/>
<path d="M399.4,155.9 A3.4,4.3 0 1 0 399.41,155.9 M402.6,163.2 L408.6,154.8 L406.3,166.4 L414.2,154.8 L411.9,166.4 L418.2,158.4 M421.5,156.8 A3.6,4.4 0 1 0 421.51,156.8" fill="none" stroke="#fff" stroke-width="1.3" stroke-linejoin="round" stroke-linecap="round"/>
<rect x="430.4" y="152.4" width="8.4" height="5.4" fill="#00ff00"/>
<rect x="430.4" y="165" width="8.4" height="5.4" fill="#ff0000"/>
<text x="440.3" y="159.8" font-size="10" font-weight="600" fill="#111" textLength="30" lengthAdjust="spacingAndGlyphs">未储能</text>
<text x="440.3" y="172.6" font-size="10" font-weight="600" fill="#111" textLength="30" lengthAdjust="spacingAndGlyphs">已储能</text>
<text x="512.3" y="41" font-size="8" font-weight="600" fill="#fff" textLength="17.2" lengthAdjust="spacingAndGlyphs">降温A</text>
<circle cx="520.9" cy="51.3" r="7.4" fill="#00e800" stroke="rgba(0,0,0,0.35)" stroke-width="0.9"/>
<text x="537.9" y="41" font-size="8" font-weight="600" fill="#fff" textLength="17.2" lengthAdjust="spacingAndGlyphs">降温B</text>
<circle cx="546.5" cy="51.3" r="7.4" fill="#00e800" stroke="rgba(0,0,0,0.35)" stroke-width="0.9"/>
<text x="563.3" y="41" font-size="8" font-weight="600" fill="#fff" textLength="17.2" lengthAdjust="spacingAndGlyphs">加热A</text>
<circle cx="571.9" cy="51.3" r="7.4" fill="#ff0000" stroke="rgba(0,0,0,0.35)" stroke-width="0.9"/>
<text x="588.6" y="41" font-size="8" font-weight="600" fill="#fff" textLength="17.2" lengthAdjust="spacingAndGlyphs">加热B</text>
<circle cx="597.2" cy="51.3" r="7.4" fill="#ff0000" stroke="rgba(0,0,0,0.35)" stroke-width="0.9"/>
<text x="614.2" y="41" font-size="8" font-weight="600" fill="#fff" textLength="17.2" lengthAdjust="spacingAndGlyphs">故障A</text>
<circle cx="622.8" cy="51.3" r="7.4" fill="#ff0000" stroke="rgba(0,0,0,0.35)" stroke-width="0.9"/>
<text x="505.6" y="74" font-size="8" font-weight="600" fill="#fff" textLength="31.4" lengthAdjust="spacingAndGlyphs">闭锁解除</text>
<circle cx="520.9" cy="83.8" r="7.4" fill="#00e800" stroke="rgba(0,0,0,0.35)" stroke-width="0.9"/>
<text x="546.5" y="74.6" font-size="9.6" fill="#f4f4f4" text-anchor="middle" transform="translate(546.5,74.6) scale(0.8,1) translate(-546.5,-74.6)">A</text>
<circle cx="546.5" cy="83.8" r="7.4" fill="#ff0000" stroke="rgba(0,0,0,0.35)" stroke-width="0.9"/>
<text x="571.9" y="74.6" font-size="9.6" fill="#f4f4f4" text-anchor="middle" transform="translate(571.9,74.6) scale(0.8,1) translate(-571.9,-74.6)">B</text>
<circle cx="571.9" cy="83.8" r="7.4" fill="#ff0000" stroke="rgba(0,0,0,0.35)" stroke-width="0.9"/>
<text x="597.2" y="74.6" font-size="9.6" fill="#f4f4f4" text-anchor="middle" transform="translate(597.2,74.6) scale(0.8,1) translate(-597.2,-74.6)">C</text>
<circle cx="597.2" cy="83.8" r="7.4" fill="#ff0000" stroke="rgba(0,0,0,0.35)" stroke-width="0.9"/>
<text x="614.5" y="74" font-size="8" font-weight="600" fill="#fff" textLength="18" lengthAdjust="spacingAndGlyphs">故障B</text>
<circle cx="622.8" cy="83.8" r="7.4" fill="#ff0000" stroke="rgba(0,0,0,0.35)" stroke-width="0.9"/>
<text x="515.1" y="104.4" font-size="9" font-weight="normal" fill="#fff" textLength="11.2" lengthAdjust="spacingAndGlyphs">UA</text>
<circle cx="520.7" cy="116.4" r="9.5" fill="#ffff00" stroke="rgba(0,0,0,0.35)" stroke-width="0.9"/>
<text x="549.6" y="104.4" font-size="9" font-weight="normal" fill="#fff" textLength="11.2" lengthAdjust="spacingAndGlyphs">UB</text>
<circle cx="555.2" cy="116.4" r="9.5" fill="#00ff00" stroke="rgba(0,0,0,0.35)" stroke-width="0.9"/>
<text x="583.8" y="104.4" font-size="9" font-weight="normal" fill="#fff" textLength="11.2" lengthAdjust="spacingAndGlyphs">UC</text>
<circle cx="589.4" cy="116.4" r="9.5" fill="#ff0000" stroke="rgba(0,0,0,0.35)" stroke-width="0.9"/>
<text x="615.6" y="104.5" font-size="8.5" font-weight="normal" fill="#fff" textLength="14.4" lengthAdjust="spacingAndGlyphs">自检</text>
<circle cx="623.0" cy="116.4" r="9.5" fill="#0000ff" stroke="rgba(0,0,0,0.35)" stroke-width="0.9"/>
<ellipse cx="572.2" cy="163.5" rx="43" ry="29" fill="#3a3a3a"/>
<ellipse cx="572.2" cy="163.5" rx="41.2" ry="27" fill="none" stroke="#5a5a5a" stroke-width="0.8"/>
<ellipse cx="572.3" cy="163.3" rx="40" ry="25.7" fill="#898989"/>
<circle cx="553.25" cy="154.75" r="2.1" fill="#fff"/>
<circle cx="559.53" cy="154.75" r="2.1" fill="#fff"/>
<circle cx="565.81" cy="154.75" r="2.1" fill="#fff"/>
<circle cx="572.09" cy="154.75" r="2.1" fill="#fff"/>
<circle cx="578.37" cy="154.75" r="2.1" fill="#fff"/>
<circle cx="584.65" cy="154.75" r="2.1" fill="#fff"/>
<circle cx="590.93" cy="154.75" r="2.1" fill="#fff"/>
<circle cx="546.80" cy="165.25" r="2.1" fill="#fff"/>
<circle cx="553.08" cy="165.25" r="2.1" fill="#fff"/>
<circle cx="559.36" cy="165.25" r="2.1" fill="#fff"/>
<circle cx="565.64" cy="165.25" r="2.1" fill="#fff"/>
<circle cx="571.92" cy="165.25" r="2.1" fill="#fff"/>
<circle cx="578.20" cy="165.25" r="2.1" fill="#fff"/>
<circle cx="584.48" cy="165.25" r="2.1" fill="#fff"/>
<circle cx="590.76" cy="165.25" r="2.1" fill="#fff"/>
<circle cx="597.04" cy="165.25" r="2.1" fill="#fff"/>
<circle cx="553.25" cy="175.75" r="2.1" fill="#fff"/>
<circle cx="559.53" cy="175.75" r="2.1" fill="#fff"/>
<circle cx="565.81" cy="175.75" r="2.1" fill="#fff"/>
<circle cx="572.09" cy="175.75" r="2.1" fill="#fff"/>
<circle cx="578.37" cy="175.75" r="2.1" fill="#fff"/>
<circle cx="584.65" cy="175.75" r="2.1" fill="#fff"/>
<circle cx="590.93" cy="175.75" r="2.1" fill="#fff"/>
<text x="549.8" y="205.3" font-size="10" font-weight="600" fill="#fff" textLength="42" lengthAdjust="spacingAndGlyphs">语音提示</text>
<text x="555" y="237.2" font-size="11.2" font-weight="600" fill="#fff" textLength="51" lengthAdjust="spacingAndGlyphs">储能开关</text>
<text x="519.3" y="254.8" font-size="11.4" font-weight="600" fill="#fff" textLength="24.5" lengthAdjust="spacingAndGlyphs">手储</text>
<text x="617.8" y="254.8" font-size="11.4" font-weight="600" fill="#fff" textLength="24" lengthAdjust="spacingAndGlyphs">自储</text>
<circle cx="580" cy="285.7" r="44" fill="#000"/>
<circle cx="580" cy="285.7" r="39.2" fill="none" stroke="#fff" stroke-width="3.8"/>
<g transform="translate(579.4,286.1) rotate(-48)">
<rect x="-3.6" y="-34.2" width="7.2" height="68.4" fill="#fff"/>
<rect x="-2" y="-35" width="4" height="18.5" fill="#000"/>
</g>
<rect x="11.7" y="362.3" width="148" height="148" rx="9" fill="#000"/><rect x="18.2" y="369.0" width="134.5" height="134.2" rx="6" fill="#fff"/>
<text x="24.5" y="394.2" font-size="15" font-weight="bold" fill="#111">远方</text>
<text x="116" y="392.6" font-size="15" font-weight="bold" fill="#111">就地</text>
<circle cx="85.1" cy="438.9" r="37.7" fill="#bfab92" stroke="#000" stroke-width="2.4"/>
<g transform="translate(74.8,452.6) rotate(40)">
<rect x="-10.5" y="-49.7" width="21" height="99.4" fill="#1e1e1e" stroke="#000" stroke-width="1.5"/>
<rect x="-10.5" y="-49.7" width="21" height="14.5" fill="#bfab92" stroke="#000" stroke-width="1.5"/>
<rect x="-2.5" y="-47" width="5" height="9.5" fill="#808080" stroke="#000" stroke-width="1"/>
</g>
<rect x="506" y="362.3" width="148" height="148" rx="9" fill="#000"/><rect x="512.5" y="369.0" width="134.5" height="134.2" rx="6" fill="#fff"/>
<text x="517" y="404.5" font-size="15" font-weight="bold" fill="#111">分闸</text>
<text x="612.5" y="403" font-size="15" font-weight="bold" fill="#111">合闸</text>
<ellipse cx="581" cy="381.2" rx="3.1" ry="5.3" fill="none" stroke="#000" stroke-width="3.9"/>
<path d="M548.4,392 Q560,380 574.5,380.6" fill="none" stroke="#000" stroke-width="2.6"/>
<path d="M567,376.5 L575.5,380.6 L568,386.8" fill="none" stroke="#000" stroke-width="2.6"/>
<path d="M612.5,392 Q601,380 586.7,380.6" fill="none" stroke="#000" stroke-width="2.6"/>
<path d="M594.5,376.5 L586,380.6 L593.5,386.8" fill="none" stroke="#000" stroke-width="2.6"/>
<circle cx="580.8" cy="435.3" r="37.5" fill="#bfab92" stroke="#000" stroke-width="2.4"/>
<path d="M569.5,401 L592.5,401 L594,417 L570,417 Z" fill="#bfab92" stroke="#000" stroke-width="1.5"/>
<rect x="570" y="417" width="24" height="88" fill="#1e1e1e" stroke="#000" stroke-width="1.5"/>
<rect x="578.4" y="404.2" width="5.2" height="9.4" fill="#808080" stroke="#000" stroke-width="1"/>
</svg></div></body></html>
